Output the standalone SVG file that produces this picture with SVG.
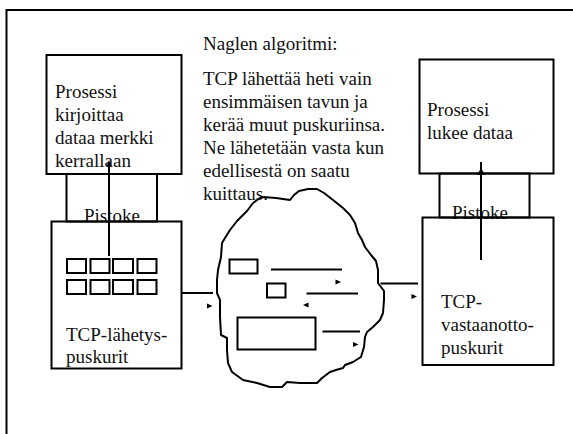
<svg xmlns="http://www.w3.org/2000/svg" width="573" height="434" viewBox="0 0 573 434">
  <style>
    .box { fill: none; stroke: #000; stroke-width: 2; }
    .cell { fill: none; stroke: #000; stroke-width: 2; }
    .wire { fill: none; stroke: #000; stroke-width: 2; }
    .tip { fill: #000; stroke: none; }
    .lbl { font-family: 'Liberation Serif', 'Times New Roman', serif; font-size: 19px; fill: #111; }
  </style>

  <!-- slide frame (right and bottom edges fall outside the canvas) -->
  <rect id="frame" x="6.5" y="10" width="600" height="460" class="box"/>

  <!-- sending side -->
  <g id="sender-process">
    <rect x="46.5" y="55" width="135" height="119" class="box"/>
    <text class="lbl" x="55" y="98">Prosessi</text>
    <text class="lbl" x="55" y="121">kirjoittaa</text>
    <text class="lbl" x="55" y="144">dataa merkki</text>
    <text class="lbl" x="55" y="167">kerrallaan</text>
  </g>

  <g id="sender-socket">
    <rect x="66.5" y="174" width="90.5" height="47.5" class="box"/>
    <text class="lbl" x="84" y="222">Pistoke</text>
  </g>

  <g id="sender-buffers">
    <rect x="51.5" y="221.5" width="130" height="147" class="box"/>
    <rect x="67" y="259" width="19" height="14" class="cell"/>
    <rect x="90.5" y="259" width="19" height="14" class="cell"/>
    <rect x="113" y="259" width="20" height="14" class="cell"/>
    <rect x="137.5" y="259" width="19" height="14" class="cell"/>
    <rect x="67" y="280" width="19" height="14" class="cell"/>
    <rect x="90.5" y="280" width="19" height="14" class="cell"/>
    <rect x="113" y="280" width="20" height="14" class="cell"/>
    <rect x="137.5" y="280" width="19" height="14" class="cell"/>
    <text class="lbl" x="66" y="341">TCP-lähetys-</text>
    <text class="lbl" x="66" y="363">puskurit</text>
  </g>

  <!-- explanation of Nagle's algorithm -->
  <g id="nagle-note">
    <text class="lbl" x="203" y="50">Naglen algoritmi:</text>
    <text class="lbl" x="203" y="85">TCP lähettää heti vain</text>
    <text class="lbl" x="203" y="108">ensimmäisen tavun ja</text>
    <text class="lbl" x="203" y="131">kerää muut puskuriinsa.</text>
    <text class="lbl" x="203" y="154">Ne lähetetään vasta kun</text>
    <text class="lbl" x="203" y="177">edellisestä on saatu</text>
    <text class="lbl" x="203" y="200">kuittaus.</text>
  </g>

  <!-- network cloud with segments in transit -->
  <g id="network">
    <path class="wire" stroke-linejoin="round" d="M263,197 L276,198 L290,200 L294,195 L299,191 L308,189 L317,189 L324,193 L333,200 L343,208 L350,215 L355,223 L358,233 L362,240 L365,247 L371,255 L376,261 L378,270 L378,283 L381,287 L384,291 L384,300 L383,313 L380,320 L373,327 L367,332 L365,337 L364,347 L361,357 L353,362 L345,365 L343,368 L336,370 L330,372 L322,378 L317,383 L300,383 L287,382 L282,387 L270,387 L257,383 L243,380 L232,372 L228,363 L227,350 L227,338 L221,335 L220,317 L220,300 L217,293 L217,280 L218,270 L221,257 L222,243 L225,238 L230,230 L237,221 L243,215 L247,211 L250,207 L253,203 L260,198 Z"/>
    <rect x="229.5" y="259.5" width="28" height="14" class="cell"/>
    <rect x="267" y="283.5" width="18.5" height="14" class="cell"/>
    <rect x="237.5" y="317.5" width="78" height="32" class="cell"/>
  </g>

  <!-- receiving side -->
  <g id="receiver-process">
    <rect x="419.5" y="59.5" width="134" height="114" class="box"/>
    <text class="lbl" x="427" y="116">Prosessi</text>
    <text class="lbl" x="427" y="139">lukee dataa</text>
  </g>

  <g id="receiver-socket">
    <rect x="439.5" y="173.5" width="90" height="44" class="box"/>
    <text class="lbl" x="452" y="219">Pistoke</text>
  </g>

  <g id="receiver-buffers">
    <rect x="422.5" y="217.5" width="131" height="147.5" class="box"/>
    <text class="lbl" x="441" y="308">TCP-</text>
    <text class="lbl" x="441" y="331">vastaanotto-</text>
    <text class="lbl" x="441" y="354">puskurit</text>
  </g>

  <!-- data flow: process to buffers, buffers to network, network to receiver -->
  <g id="connectors">
    <line class="wire" x1="109" y1="256" x2="109" y2="162"/>
    <polygon class="tip" points="109,160 106.5,166 111.5,166"/>

    <line class="wire" x1="181.5" y1="293" x2="213" y2="293"/>
    <polygon class="tip" points="212.5,306 207,303.5 207,308.5"/>

    <line class="wire" x1="271" y1="269.5" x2="342" y2="269.5"/>
    <polygon class="tip" points="341,282 335.5,279.5 335.5,284.5"/>

    <line class="wire" x1="306.5" y1="293.5" x2="358" y2="293.5"/>
    <polygon class="tip" points="303,305 308.5,302.5 308.5,307.5"/>

    <line class="wire" x1="322.5" y1="331.5" x2="360" y2="331.5"/>
    <polygon class="tip" points="358.5,344.5 353,342 353,347"/>

    <line class="wire" x1="380.5" y1="283.5" x2="418" y2="283.5"/>
    <polygon class="tip" points="417,296.5 411.5,294 411.5,299"/>

    <line class="wire" x1="481" y1="260" x2="481" y2="162"/>
    <polygon class="tip" points="481,168 477,175 485,175"/>
  </g>
</svg>
